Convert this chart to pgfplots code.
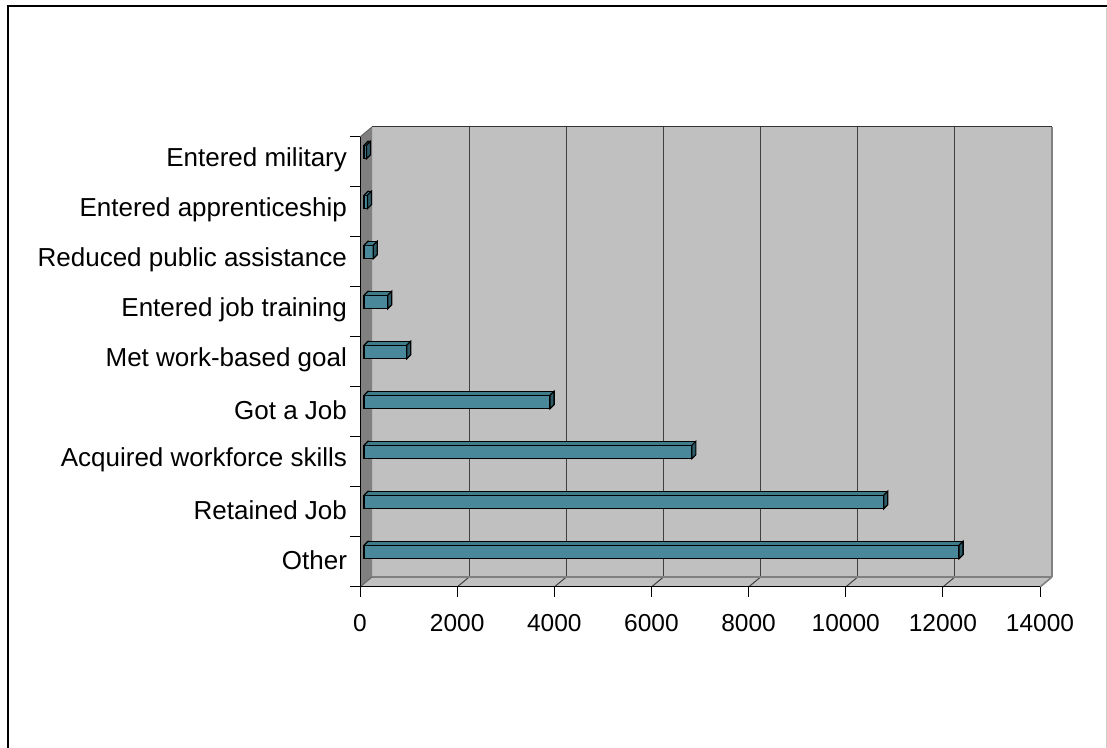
\documentclass[border=0pt]{standalone}
\usepackage{fontspec}
\setmainfont{Liberation Sans}
\usepackage{pgfplots}
\usepackage{pgfplotstable}
\pgfplotsset{compat=1.18}
\definecolor{wallback}{HTML}{C0C0C0}
\definecolor{wallside}{HTML}{808080}
\definecolor{barfront}{HTML}{48889A}
\definecolor{bartop}{HTML}{3E7C8B}
\definecolor{barside}{HTML}{2D5C68}
\pgfdeclareplotmark{sideface}{%
  \pgfpathmoveto{\pgfqpoint{2pt}{1.625pt}}%
  \pgfpathlineto{\pgfqpoint{2pt}{8.375pt}}%
  \pgfpathlineto{\pgfqpoint{4pt}{10.375pt}}%
  \pgfpathlineto{\pgfqpoint{4pt}{3.625pt}}%
  \pgfpathclose
  \pgfusepath{fill,stroke}}
\pgfdeclareplotmark{topleft}{%
  \pgfpathmoveto{\pgfqpoint{2pt}{8.375pt}}%
  \pgfpathlineto{\pgfqpoint{4pt}{10.375pt}}%
  \pgfpathlineto{\pgfqpoint{4.4pt}{10.375pt}}%
  \pgfpathlineto{\pgfqpoint{4.4pt}{8.375pt}}%
  \pgfpathclose
  \pgfusepath{fill}%
  \pgfpathmoveto{\pgfqpoint{2pt}{8.375pt}}%
  \pgfpathlineto{\pgfqpoint{4pt}{10.375pt}}%
  \pgfpathlineto{\pgfqpoint{4.6pt}{10.375pt}}%
  \pgfusepath{stroke}}
\pgfplotstableread{
y v z
0 12250 0
1 10700 0
2 6750 0
3 3830 0
4 880 0
5 490 0
6 190 0
7 70 0
8 50 0
}\datatab
\begin{document}
\begin{tikzpicture}
\useasboundingbox (0,0) rectangle (553.5pt,374pt);
\draw[black, line width=1pt] (3.75pt,0) -- (3.75pt,370.75pt) -- (553.5pt,370.75pt);
\draw[gray!40, line width=0.5pt] (553pt,0) -- (553pt,370pt);
\begin{axis}[
  at={(180pt,80.5pt)}, anchor=south west,
  scale only axis, width=340pt, height=225pt,
  xmin=0, xmax=14000, ymin=-0.5, ymax=8.5,
  axis on top,
  axis x line*=bottom, axis y line*=left,
  axis line style={black, line width=0.5pt},
  tick align=outside, major tick length=5pt,
  tick style={black, line width=0.5pt},
  xtick={0,2000,...,14000},
  scaled x ticks=false,
  /pgf/number format/assume math mode=true,
  /pgf/number format/set thousands separator={},
  xticklabel style={font=\fontsize{12.25}{14}\selectfont, yshift=-5pt},
  ytick={-0.5,0.5,1.5,2.5,3.5,4.5,5.5,6.5,7.5,8.5},
  yticklabels={,,,,,,,,,},
  extra y ticks={0,1,2,3,4,5,6,7,8},
  extra y tick labels={Other,Retained Job,Acquired workforce skills,Got a Job,Met work-based goal,Entered job training,Reduced public assistance,Entered apprenticeship,Entered military},
  extra y tick style={major tick length=0pt, yticklabel style={xshift=-3pt, yshift=1pt}},
  yticklabel style={font=\fontsize{13}{15}\selectfont},
  clip=false,
]
% back wall
\fill[wallback] ([shift={(6pt,5pt)}]axis cs:0,-0.5) rectangle ([shift={(6pt,5pt)}]axis cs:14000,8.5);
% floor
\fill[wallback] (axis cs:0,-0.5) -- (axis cs:14000,-0.5) -- ([shift={(6pt,5pt)}]axis cs:14000,-0.5) -- ([shift={(6pt,5pt)}]axis cs:0,-0.5) -- cycle;
% grid on back wall and floor
\pgfplotsinvokeforeach{2000,4000,6000,8000,10000,12000}{
  \draw[black!75, line width=0.5pt] ([shift={(6pt,5pt)}]axis cs:#1,-0.5) -- ([shift={(6pt,5pt)}]axis cs:#1,8.5);
  \draw[black!75, line width=0.5pt] (axis cs:#1,-0.5) -- ([shift={(6pt,5pt)}]axis cs:#1,-0.5);
}
% wall outlines
\draw[wallside, line width=0.6pt] ([shift={(6pt,5pt)}]axis cs:0,-0.5) -- ([shift={(6pt,5pt)}]axis cs:14000,-0.5);
\draw[black!60!wallside, line width=0.5pt] ([shift={(6pt,5pt)}]axis cs:0,8.5) -- ([shift={(6pt,5pt)}]axis cs:14000,8.5);
\draw[wallside, line width=1.2pt] ([shift={(6pt,5pt)}]axis cs:14000,-0.5) -- ([shift={(6pt,5pt)}]axis cs:14000,8.5);
\draw[wallside, line width=0.8pt] (axis cs:14000,-0.5) -- ([shift={(6pt,5pt)}]axis cs:14000,-0.5);
% side wall
\fill[wallside] (axis cs:0,-0.5) -- (axis cs:0,8.5) -- ([shift={(6pt,5pt)}]axis cs:0,8.5) -- ([shift={(6pt,5pt)}]axis cs:0,-0.5) -- cycle;
\draw[black!60, line width=0.5pt] (axis cs:0,8.5) -- ([shift={(6pt,5pt)}]axis cs:0,8.5);
\draw[black!60, line width=0.5pt] (axis cs:0,-0.5) -- ([shift={(6pt,5pt)}]axis cs:0,-0.5);
% bars: top (back copy)
\addplot[xbar, bar width=6.75pt, bar shift=5pt, xshift=4pt, yshift=2pt, fill=bartop, draw=black, line width=0.6pt] table[x=v, y=y] {\datatab};
\addplot[only marks, mark=topleft, mark options={fill=bartop, draw=black, line width=0.6pt}] table[x=z, y=y] {\datatab};
% front
\addplot[xbar, bar width=6.75pt, bar shift=5pt, xshift=2pt, fill=barfront, draw=black, line width=0.6pt] table[x=v, y=y] {\datatab};
\addplot[only marks, mark=sideface, mark options={fill=barside, draw=black, line width=0.6pt}] table[x=v, y=y] {\datatab};
\end{axis}
\end{tikzpicture}
\end{document}
